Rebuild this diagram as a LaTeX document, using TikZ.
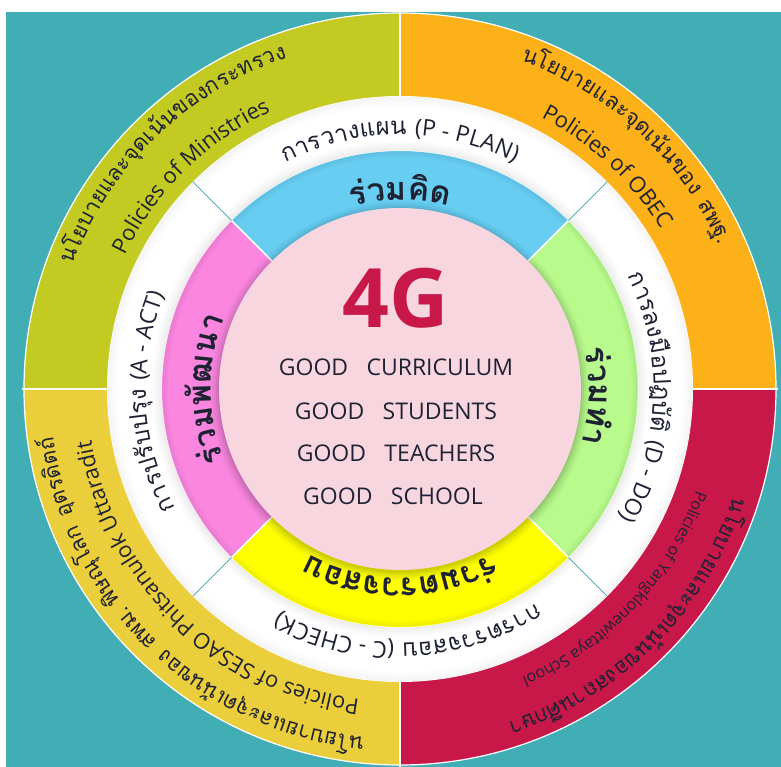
\documentclass[tikz,border=0pt]{standalone}
\usepackage{fontspec}
\setmainfont{Open Sans}
\newfontfamily\thaifont[Script=Thai]{Loma}
\usetikzlibrary{decorations.text}
\definecolor{bgteal}{HTML}{41ADB5}
\definecolor{qolive}{HTML}{C3CA22}
\definecolor{qorange}{HTML}{FBB117}
\definecolor{qcrim}{HTML}{C8184A}
\definecolor{qgold}{HTML}{EBCE3B}
\definecolor{rblue}{HTML}{67CEF2}
\definecolor{rgreen}{HTML}{B8FA8C}
\definecolor{ryellow}{HTML}{FFFF00}
\definecolor{rpink}{HTML}{FA86E0}
\definecolor{cpink}{HTML}{F8D6DF}
\definecolor{txt}{HTML}{1F2233}
\definecolor{divteal}{HTML}{5DB3B8}
\newcommand\TO{\thaifont\fontsize{22}{26}\selectfont\color{txt}}
\newcommand\EO{\rmfamily\fontsize{22}{26}\selectfont\color{txt}}
\newcommand\ES{\rmfamily\fontsize{16}{20}\selectfont\color{txt}}
\newcommand\TW{\thaifont\fontsize{24}{28}\selectfont\color{txt}}
\newcommand\EW{\rmfamily\fontsize{23}{28}\selectfont\color{txt}}
\newcommand\TB{\thaifont\bfseries\fontsize{32}{36}\selectfont\color{txt}}
\newcommand\arctxt[3]{%
  \path[decorate,decoration={text along path,text align=center,text={#3}}]
    ({#2+80}:#1) arc[start angle={#2+80}, end angle={#2-80}, radius=#1];}
\def\Ra{376}
\def\Rb{293}
\def\Rc{238}
\def\Rd{181}
\begin{document}
\begin{tikzpicture}[x=1pt,y=1pt,
  goodline/.style={font=\fontsize{23}{28}\selectfont, text=txt, inner sep=0pt}]
\useasboundingbox (-400,-378) rectangle (381,389);
\clip (-400,-378) rectangle (381,389);
\fill[white] (-400,-378) rectangle (381,389);
\fill[bgteal] (-394,-378) rectangle (381,377);
% outer quadrants
\fill[qolive] (0,0) -- (180:\Ra) arc[start angle=180,end angle=90,radius=\Ra] -- cycle;
\fill[qorange] (0,0) -- (90:\Ra) arc[start angle=90,end angle=0,radius=\Ra] -- cycle;
\fill[qcrim] (0,0) -- (0:\Ra) arc[start angle=0,end angle=-90,radius=\Ra] -- cycle;
\fill[qgold] (0,0) -- (-90:\Ra) arc[start angle=-90,end angle=-180,radius=\Ra] -- cycle;
\draw[white,line width=1.2pt] (0,0) circle (\Ra);
\draw[white,line width=2pt] (0,-\Ra-2) -- (0,\Ra+2) (-\Ra-2,0) -- (\Ra+2,0);
% white ring
\fill[white] (0,0) circle (\Rb);
\foreach \i/\o in {1/0.07,2/0.06,3/0.05,4/0.045,5/0.04,6/0.03,7/0.025,8/0.02,9/0.012,10/0.008,11/0.005}{
  \draw[black,opacity=\o,line width=1pt] (0,0) circle (\Rc+\i);
  \draw[black,opacity=\o*0.6,line width=1pt] (0,0) circle (\Rb-\i);
}
\foreach \a in {45,135,225,315}{
  \draw[divteal,line width=1pt] (\a:\Rc) -- (\a:\Rb);
}
% coloured ring
\fill[rblue] (0,0) -- (45:\Rc) arc[start angle=45,end angle=135,radius=\Rc] -- cycle;
\fill[rpink] (0,0) -- (135:\Rc) arc[start angle=135,end angle=225,radius=\Rc] -- cycle;
\fill[ryellow] (0,0) -- (225:\Rc) arc[start angle=225,end angle=315,radius=\Rc] -- cycle;
\fill[rgreen] (0,0) -- (315:\Rc) arc[start angle=315,end angle=405,radius=\Rc] -- cycle;
\foreach \i/\o in {1/0.06,2/0.05,3/0.04,4/0.03,5/0.02,6/0.01}{
  \draw[black,opacity=\o,line width=1pt] (0,0) circle (\Rc-\i);
}
\foreach \a in {45,135,225,315}{
  \draw[white,line width=1.5pt] (\a:\Rd) -- (\a:\Rc);
}
% centre
\foreach \i/\o in {9/0.02,7/0.03,5/0.04,3/0.05,1/0.06}{
  \fill[black,opacity=\o] (0,-2) circle (\Rd+\i);
}
\fill[cpink] (0,0) circle (\Rd);
\node[inner sep=0pt,text=qcrim,font=\fontsize{82}{82}\selectfont\bfseries] (g4) at (-4,91) {4G};
\node[goodline] (gc) at (-4,22) {GOOD\hspace{0.8em}CURRICULUM};
\node[goodline] (gs) at (-4,-22) {GOOD\hspace{0.8em}STUDENTS};
\node[goodline] (gt) at (-4,-64) {GOOD\hspace{0.8em}TEACHERS};
\node[goodline] (gh) at (-7,-107) {GOOD\hspace{0.8em}SCHOOL};
% outer texts
\arctxt{350}{134}{|\TO|นโยบายและ{จุ}ดเ{น้}นของกระทรวง}
\arctxt{306}{134.5}{|\EO|Policies of Ministries}
\arctxt{350}{47}{|\TO|นโยบายและ{จุ}ดเ{น้}นของ{\hspace{10pt}}สพฐ.}
\arctxt{306}{47}{|\EO|Policies of OBEC}
\arctxt{350}{-45}{|\TO|นโยบายและ{จุ}ดเ{น้}นของสถาน{ศึ}กษา}
\arctxt{313}{-43}{|\ES|Policies of Yangklonewittaya School}
\arctxt{350}{-134}{|\TO|นโยบายและ{จุ}ดเ{น้}นของ{\hspace{10pt}}สพม. {พิ}ษ{ณุ}โลก{\hspace{10pt}}{อุ}ตร{ดิ}ต{ถ์}}
\arctxt{313}{-134}{|\EO|Policies of SESAO Phitsanulok Uttaradit}
% white ring texts
\arctxt{254}{90}{|\TW|การวางแผน |\EW|(P - PLAN)}
\arctxt{254}{-2}{|\TW|การลง{มื}อปฏ{บั}{ติ} |\EW|(D - DO)}
\arctxt{254}{-88}{|\TW|การตรวจสอบ |\EW|(C - CHECK)}
\arctxt{254}{183}{|\TW|การป{รั}บป{รุ}ง |\EW|(A - ACT)}
% coloured ring texts
\arctxt{189}{90}{|\TB|{ร่}วม{คิ}ด}
\arctxt{189}{-2}{|\TB|{ร่}วม{ทำ}}
\arctxt{189}{-90}{|\TB|{ร่}วมตรวจสอบ}
\arctxt{189}{180}{|\TB|{ร่}วม{พั}ฒนา}
\end{tikzpicture}
\end{document}
